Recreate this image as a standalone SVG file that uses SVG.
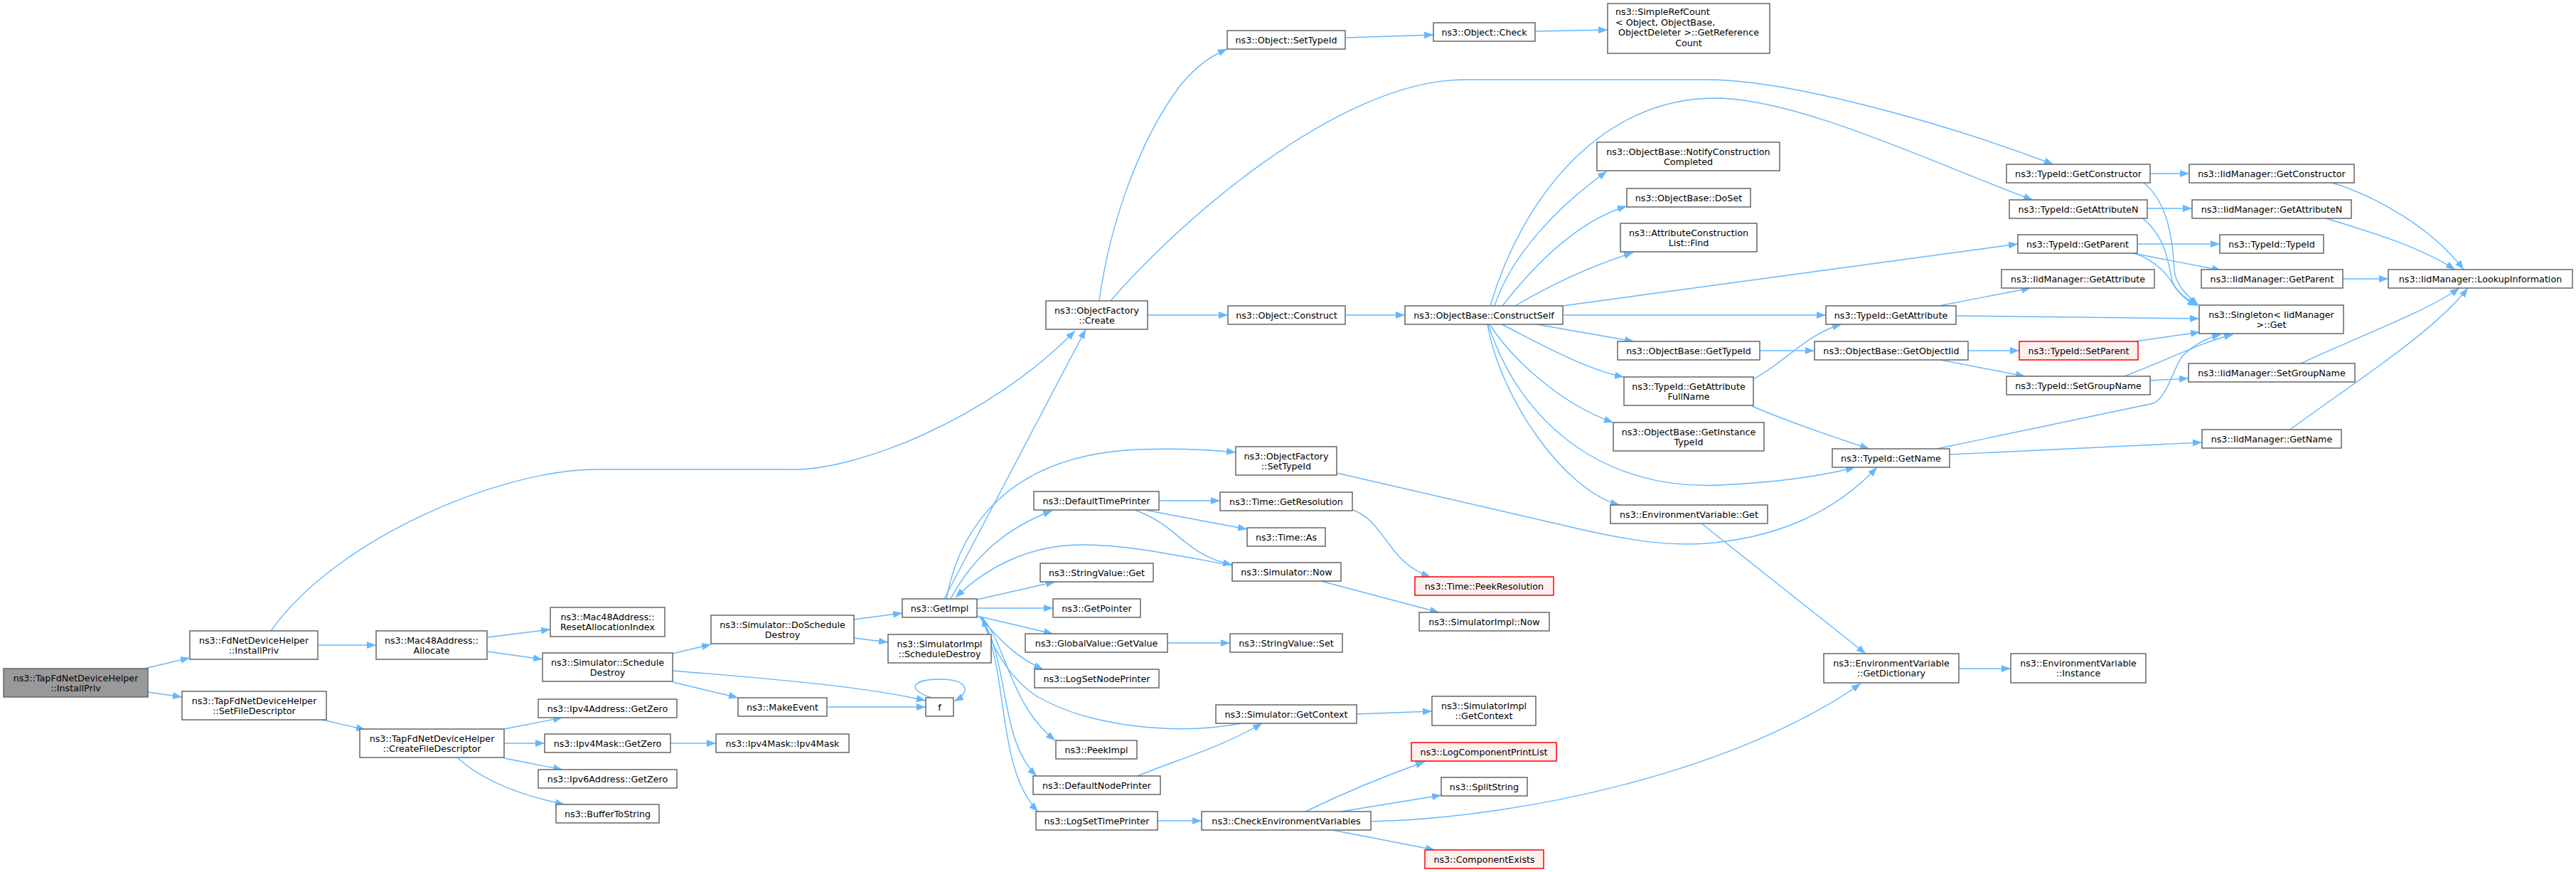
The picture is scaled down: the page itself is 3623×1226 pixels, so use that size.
<svg xmlns="http://www.w3.org/2000/svg" width="3623" height="1226" viewBox="0 0 3623 1226">
<style>
.n rect{fill:#ffffff;stroke:#666666;stroke-width:1.5}
.n.g rect{fill:#999999}
.n.r rect{fill:#fff0f0;stroke:#ff0000}
text{font-family:"DejaVu Sans","Liberation Sans",sans-serif;font-size:12.7px;fill:#000000;text-anchor:middle}
text.l{text-anchor:start}
#edges path{fill:none;stroke:#63b8ff;stroke-width:1.4;marker-end:url(#arr)}
</style>
<defs>
<marker id="arr" markerUnits="userSpaceOnUse" markerWidth="13" markerHeight="10" viewBox="0 0 13 10" refX="13" refY="5" orient="auto"><path d="M0,0 L13,5 L0,10 z" fill="#63b8ff"/></marker>
</defs>
<rect width="3623" height="1226" fill="#ffffff"/>
<g id="edges">
<path d="M203,940 L267,925"/>
<path d="M208,973 L256,980"/>
<path d="M381,887 C470,760 700,660 840,660 L1105,660 C1200,665 1390,590 1512,465"/>
<path d="M447,907 L529,907"/>
<path d="M686,896 L774,885"/>
<path d="M686,916 L763,927"/>
<path d="M453,1012 L514,1026"/>
<path d="M709,1025 L791,1009"/>
<path d="M709,1045 L766,1045"/>
<path d="M709,1066 L791,1082"/>
<path d="M644,1066 C680,1098 730,1118 794,1131"/>
<path d="M943,1045 L1007,1045"/>
<path d="M946,919 L1000,906"/>
<path d="M946,943 C1050,952 1200,962 1302,985"/>
<path d="M946,959 L1038,981"/>
<path d="M1201,871 L1269,862"/>
<path d="M1201,897 L1249,903"/>
<path d="M1163,994 L1302,994"/>
<path d="M1310,981 C1272,968 1285,955 1322,955 C1360,955 1368,972 1342,986"/>
<path d="M1328,842 L1527,463"/>
<path d="M1331,842 C1350,740 1420,640 1600,632 C1660,630 1700,632 1738,636"/>
<path d="M1337,842 C1370,780 1420,740 1480,718"/>
<path d="M1733,795 C1650,780 1580,765 1518,766 C1450,767 1390,795 1344,840"/>
<path d="M1374,843 L1484,818"/>
<path d="M1374,855 L1481,855"/>
<path d="M1374,866 L1481,891"/>
<path d="M1378,868 C1400,890 1420,920 1467,941"/>
<path d="M1381,868 C1415,905 1420,990 1484,1041"/>
<path d="M1380,868 C1420,930 1405,1040 1458,1091"/>
<path d="M1379,868 C1420,940 1400,1080 1460,1141"/>
<path d="M1746,1017 C1650,1035 1530,1020 1460,980 C1420,955 1395,910 1382,868"/>
<path d="M1630,704 L1716,704"/>
<path d="M1610,717 L1754,744"/>
<path d="M1596,717 C1660,740 1665,780 1733,794"/>
<path d="M1642,904 L1730,904"/>
<path d="M1628,1154 L1690,1154"/>
<path d="M1600,1091 C1650,1070 1720,1050 1775,1017"/>
<path d="M1908,1004 L2014,1000"/>
<path d="M1858,817 L2024,861"/>
<path d="M1903,717 C1950,735 1950,790 2012,811"/>
<path d="M1880,665 L2218,743 C2300,762 2360,770 2420,762 C2520,750 2590,710 2640,657"/>
<path d="M1836,1141 C1900,1110 1950,1090 2004,1071"/>
<path d="M1886,1141 L2027,1118"/>
<path d="M1874,1167 L2018,1195"/>
<path d="M1928,1155 C2150,1150 2450,1080 2617,961"/>
<path d="M2393,736 L2624,919"/>
<path d="M2755,940 L2828,940"/>
<path d="M1614,443 L1727,443"/>
<path d="M1892,443 L1976,443"/>
<path d="M1546,423 C1560,320 1600,200 1660,120 C1685,90 1705,78 1726,69"/>
<path d="M1562,423 C1650,320 1880,112 2060,112 L2400,112 C2520,112 2740,175 2888,231"/>
<path d="M1892,53 L2016,49"/>
<path d="M2159,44 L2261,42"/>
<path d="M2096,430 C2140,280 2250,138 2412,138 C2530,138 2720,230 2859,281"/>
<path d="M2102,430 C2125,360 2190,290 2260,241"/>
<path d="M2113,430 C2160,370 2220,310 2288,290"/>
<path d="M2131,430 C2190,395 2250,370 2297,355"/>
<path d="M2198,430 L2838,343"/>
<path d="M2198,443 L2568,443"/>
<path d="M2161,456 L2298,480"/>
<path d="M2112,456 C2160,480 2230,520 2284,530"/>
<path d="M2095,456 C2130,510 2200,570 2269,594"/>
<path d="M2093,456 C2140,600 2260,690 2420,682 C2500,678 2560,670 2609,657"/>
<path d="M2092,456 C2110,560 2200,690 2278,710"/>
<path d="M2475,493 L2552,493"/>
<path d="M2466,533 C2510,510 2540,470 2590,456"/>
<path d="M2464,571 C2520,595 2580,615 2629,631"/>
<path d="M2727,430 L2856,405"/>
<path d="M2751,444 L3093,448"/>
<path d="M2768,493 L2840,493"/>
<path d="M2729,506 L2848,529"/>
<path d="M2724,631 L3029,567 C3050,555 3055,520 3070,500 C3085,485 3105,475 3124,470"/>
<path d="M2742,639 L3097,622"/>
<path d="M3003,480 L3094,467"/>
<path d="M2988,529 C3050,505 3100,480 3141,470"/>
<path d="M3024,535 L3078,532"/>
<path d="M3236,511 C3300,480 3410,440 3459,405"/>
<path d="M3221,604 C3300,545 3420,470 3471,405"/>
<path d="M3280,257 C3340,275 3420,320 3465,379"/>
<path d="M3268,306 C3330,325 3400,345 3453,379"/>
<path d="M3295,392 L3359,392"/>
<path d="M3024,244 L3079,244"/>
<path d="M3015,257 C3050,285 3056,340 3058,380 C3060,400 3075,415 3092,429"/>
<path d="M3020,293 L3083,293"/>
<path d="M3012,306 C3045,330 3050,370 3055,395 C3060,410 3075,420 3090,429"/>
<path d="M3007,343 L3122,343"/>
<path d="M2994,355 L3124,380"/>
<path d="M3000,355 C3040,370 3050,390 3060,405 C3070,418 3078,424 3090,430"/>
</g>
<g id="n_tapinstall" class="n g"><rect x="5" y="940" width="203" height="40"/><text x="106.5" y="957.5">ns3::TapFdNetDeviceHelper</text><text x="106.5" y="971.5">::InstallPriv</text></g>
<g id="n_fdinstall" class="n"><rect x="267" y="887" width="180" height="40"/><text x="357" y="904.5">ns3::FdNetDeviceHelper</text><text x="357" y="918.5">::InstallPriv</text></g>
<g id="n_setfd" class="n"><rect x="256" y="972" width="203" height="40"/><text x="357.5" y="989.5">ns3::TapFdNetDeviceHelper</text><text x="357.5" y="1003.5">::SetFileDescriptor</text></g>
<g id="n_alloc" class="n"><rect x="529" y="887" width="156" height="40"/><text x="607" y="904.5">ns3::Mac48Address::</text><text x="607" y="918.5">Allocate</text></g>
<g id="n_reset" class="n"><rect x="774" y="854" width="161" height="41"/><text x="854.5" y="872">ns3::Mac48Address::</text><text x="854.5" y="886">ResetAllocationIndex</text></g>
<g id="n_schedDestroy" class="n"><rect x="763" y="918" width="183" height="40"/><text x="854.5" y="935.5">ns3::Simulator::Schedule</text><text x="854.5" y="949.5">Destroy</text></g>
<g id="n_createfd" class="n"><rect x="506" y="1025" width="203" height="40"/><text x="607.5" y="1042.5">ns3::TapFdNetDeviceHelper</text><text x="607.5" y="1056.5">::CreateFileDescriptor</text></g>
<g id="n_ipv4zero" class="n"><rect x="757" y="983" width="195" height="26"/><text x="854.5" y="1000.5">ns3::Ipv4Address::GetZero</text></g>
<g id="n_maskzero" class="n"><rect x="766" y="1032" width="177" height="26"/><text x="854.5" y="1049.5">ns3::Ipv4Mask::GetZero</text></g>
<g id="n_ipv6zero" class="n"><rect x="757" y="1082" width="195" height="26"/><text x="854.5" y="1099.5">ns3::Ipv6Address::GetZero</text></g>
<g id="n_buf" class="n"><rect x="782" y="1131" width="145" height="26"/><text x="854.5" y="1148.5">ns3::BufferToString</text></g>
<g id="n_doSched" class="n"><rect x="1000" y="865" width="201" height="40"/><text x="1100.5" y="882.5">ns3::Simulator::DoSchedule</text><text x="1100.5" y="896.5">Destroy</text></g>
<g id="n_getimpl" class="n"><rect x="1269" y="842" width="105" height="26"/><text x="1321.5" y="859.5">ns3::GetImpl</text></g>
<g id="n_implSched" class="n"><rect x="1249" y="892" width="145" height="40"/><text x="1321.5" y="909.5">ns3::SimulatorImpl</text><text x="1321.5" y="923.5">::ScheduleDestroy</text></g>
<g id="n_makeevent" class="n"><rect x="1038" y="981" width="125" height="26"/><text x="1100.5" y="998.5">ns3::MakeEvent</text></g>
<g id="n_f" class="n"><rect x="1302" y="981" width="39" height="26"/><text x="1321.5" y="998.5">f</text></g>
<g id="n_maskctor" class="n"><rect x="1007" y="1032" width="187" height="26"/><text x="1100.5" y="1049.5">ns3::Ipv4Mask::Ipv4Mask</text></g>
<g id="n_strget" class="n"><rect x="1463" y="792" width="159" height="26"/><text x="1542.5" y="809.5">ns3::StringValue::Get</text></g>
<g id="n_getptr" class="n"><rect x="1481" y="842" width="123" height="26"/><text x="1542.5" y="859.5">ns3::GetPointer</text></g>
<g id="n_gvget" class="n"><rect x="1442" y="891" width="200" height="26"/><text x="1542" y="908.5">ns3::GlobalValue::GetValue</text></g>
<g id="n_lognode" class="n"><rect x="1455" y="941" width="175" height="26"/><text x="1542.5" y="958.5">ns3::LogSetNodePrinter</text></g>
<g id="n_peek" class="n"><rect x="1485" y="1041" width="114" height="26"/><text x="1542" y="1058.5">ns3::PeekImpl</text></g>
<g id="n_defnode" class="n"><rect x="1453" y="1091" width="179" height="26"/><text x="1542.5" y="1108.5">ns3::DefaultNodePrinter</text></g>
<g id="n_logtime" class="n"><rect x="1457" y="1141" width="171" height="26"/><text x="1542.5" y="1158.5">ns3::LogSetTimePrinter</text></g>
<g id="n_checkenv" class="n"><rect x="1690" y="1141" width="238" height="26"/><text x="1809" y="1158.5">ns3::CheckEnvironmentVariables</text></g>
<g id="n_simctx" class="n"><rect x="1710" y="991" width="198" height="26"/><text x="1809" y="1008.5">ns3::Simulator::GetContext</text></g>
<g id="n_simnow" class="n"><rect x="1733" y="791" width="153" height="26"/><text x="1809.5" y="808.5">ns3::Simulator::Now</text></g>
<g id="n_strset" class="n"><rect x="1730" y="891" width="158" height="26"/><text x="1809" y="908.5">ns3::StringValue::Set</text></g>
<g id="n_create" class="n"><rect x="1471" y="423" width="143" height="40"/><text x="1542.5" y="440.5">ns3::ObjectFactory</text><text x="1542.5" y="454.5">::Create</text></g>
<g id="n_construct" class="n"><rect x="1727" y="430" width="165" height="26"/><text x="1809.5" y="447.5">ns3::Object::Construct</text></g>
<g id="n_cself" class="n"><rect x="1976" y="430" width="222" height="26"/><text x="2087" y="447.5">ns3::ObjectBase::ConstructSelf</text></g>
<g id="n_ofsettid" class="n"><rect x="1738" y="628" width="142" height="40"/><text x="1809" y="645.5">ns3::ObjectFactory</text><text x="1809" y="659.5">::SetTypeId</text></g>
<g id="n_deftime" class="n"><rect x="1454" y="691" width="176" height="26"/><text x="1542" y="708.5">ns3::DefaultTimePrinter</text></g>
<g id="n_getres" class="n"><rect x="1716" y="692" width="186" height="26"/><text x="1809" y="709.5">ns3::Time::GetResolution</text></g>
<g id="n_as" class="n"><rect x="1754" y="742" width="110" height="26"/><text x="1809" y="759.5">ns3::Time::As</text></g>
<g id="n_osettid" class="n"><rect x="1726" y="43" width="166" height="26"/><text x="1809" y="60.5">ns3::Object::SetTypeId</text></g>
<g id="n_check" class="n"><rect x="2016" y="32" width="143" height="26"/><text x="2087.5" y="49.5">ns3::Object::Check</text></g>
<g id="n_refcount" class="n"><rect x="2261" y="5" width="228" height="70"/><text class="l" x="2272" y="21">ns3::SimpleRefCount</text><text class="l" x="2272" y="35.5">&lt; Object, ObjectBase,</text><text class="l" x="2276" y="50">ObjectDeleter &gt;::GetReference</text><text x="2375" y="64.5">Count</text></g>
<g id="n_notify" class="n"><rect x="2246" y="200" width="257" height="40"/><text x="2374.5" y="217.5">ns3::ObjectBase::NotifyConstruction</text><text x="2374.5" y="231.5">Completed</text></g>
<g id="n_doset" class="n"><rect x="2288" y="265" width="174" height="26"/><text x="2375" y="282.5">ns3::ObjectBase::DoSet</text></g>
<g id="n_find" class="n"><rect x="2279" y="314" width="192" height="40"/><text x="2375" y="331.5">ns3::AttributeConstruction</text><text x="2375" y="345.5">List::Find</text></g>
<g id="n_getattr" class="n"><rect x="2568" y="430" width="183" height="26"/><text x="2659.5" y="447.5">ns3::TypeId::GetAttribute</text></g>
<g id="n_gettid" class="n"><rect x="2275" y="480" width="200" height="26"/><text x="2375" y="497.5">ns3::ObjectBase::GetTypeId</text></g>
<g id="n_getoiid" class="n"><rect x="2552" y="480" width="216" height="26"/><text x="2660" y="497.5">ns3::ObjectBase::GetObjectIid</text></g>
<g id="n_fullname" class="n"><rect x="2284" y="530" width="182" height="40"/><text x="2375" y="547.5">ns3::TypeId::GetAttribute</text><text x="2375" y="561.5">FullName</text></g>
<g id="n_insttid" class="n"><rect x="2269" y="594" width="212" height="40"/><text x="2375" y="611.5">ns3::ObjectBase::GetInstance</text><text x="2375" y="625.5">TypeId</text></g>
<g id="n_getname" class="n"><rect x="2577" y="631" width="165" height="26"/><text x="2659.5" y="648.5">ns3::TypeId::GetName</text></g>
<g id="n_envget" class="n"><rect x="2265" y="710" width="221" height="26"/><text x="2375.5" y="727.5">ns3::EnvironmentVariable::Get</text></g>
<g id="n_getctor" class="n"><rect x="2822" y="231" width="202" height="26"/><text x="2923" y="248.5">ns3::TypeId::GetConstructor</text></g>
<g id="n_iidctor" class="n"><rect x="3079" y="231" width="232" height="26"/><text x="3195" y="248.5">ns3::IidManager::GetConstructor</text></g>
<g id="n_getattrn" class="n"><rect x="2826" y="281" width="194" height="26"/><text x="2923" y="298.5">ns3::TypeId::GetAttributeN</text></g>
<g id="n_iidattrn" class="n"><rect x="3083" y="281" width="224" height="26"/><text x="3195" y="298.5">ns3::IidManager::GetAttributeN</text></g>
<g id="n_getparent" class="n"><rect x="2838" y="330" width="168" height="26"/><text x="2922" y="347.5">ns3::TypeId::GetParent</text></g>
<g id="n_typeid" class="n"><rect x="3122" y="330" width="146" height="26"/><text x="3195" y="347.5">ns3::TypeId::TypeId</text></g>
<g id="n_iidattr" class="n"><rect x="2815" y="379" width="215" height="26"/><text x="2922.5" y="396.5">ns3::IidManager::GetAttribute</text></g>
<g id="n_iidparent" class="n"><rect x="3096" y="379" width="199" height="26"/><text x="3195.5" y="396.5">ns3::IidManager::GetParent</text></g>
<g id="n_lookup" class="n"><rect x="3359" y="379" width="259" height="26"/><text x="3488.5" y="396.5">ns3::IidManager::LookupInformation</text></g>
<g id="n_singleton" class="n"><rect x="3093" y="429" width="203" height="40"/><text x="3194.5" y="446.5">ns3::Singleton&lt; IidManager</text><text x="3194.5" y="460.5">&gt;::Get</text></g>
<g id="n_setparent" class="n r"><rect x="2840" y="480" width="167" height="26"/><text x="2923.5" y="497.5">ns3::TypeId::SetParent</text></g>
<g id="n_setgroup" class="n"><rect x="2822" y="529" width="202" height="26"/><text x="2923" y="546.5">ns3::TypeId::SetGroupName</text></g>
<g id="n_iidsetgroup" class="n"><rect x="3078" y="511" width="234" height="26"/><text x="3195" y="528.5">ns3::IidManager::SetGroupName</text></g>
<g id="n_iidname" class="n"><rect x="3097" y="604" width="196" height="26"/><text x="3195" y="621.5">ns3::IidManager::GetName</text></g>
<g id="n_peekres" class="n r"><rect x="1990" y="811" width="195" height="26"/><text x="2087.5" y="828.5">ns3::Time::PeekResolution</text></g>
<g id="n_implnow" class="n"><rect x="1996" y="861" width="183" height="26"/><text x="2087.5" y="878.5">ns3::SimulatorImpl::Now</text></g>
<g id="n_implctx" class="n"><rect x="2014" y="979" width="146" height="41"/><text x="2087" y="997">ns3::SimulatorImpl</text><text x="2087" y="1011">::GetContext</text></g>
<g id="n_logprint" class="n r"><rect x="1985" y="1044" width="204" height="26"/><text x="2087" y="1061.5">ns3::LogComponentPrintList</text></g>
<g id="n_split" class="n"><rect x="2027" y="1093" width="121" height="26"/><text x="2087.5" y="1110.5">ns3::SplitString</text></g>
<g id="n_compexists" class="n r"><rect x="2004" y="1195" width="167" height="26"/><text x="2087.5" y="1212.5">ns3::ComponentExists</text></g>
<g id="n_getdict" class="n"><rect x="2565" y="919" width="190" height="41"/><text x="2660" y="937">ns3::EnvironmentVariable</text><text x="2660" y="951">::GetDictionary</text></g>
<g id="n_instance" class="n"><rect x="2828" y="919" width="190" height="41"/><text x="2923" y="937">ns3::EnvironmentVariable</text><text x="2923" y="951">::Instance</text></g>
</svg>
